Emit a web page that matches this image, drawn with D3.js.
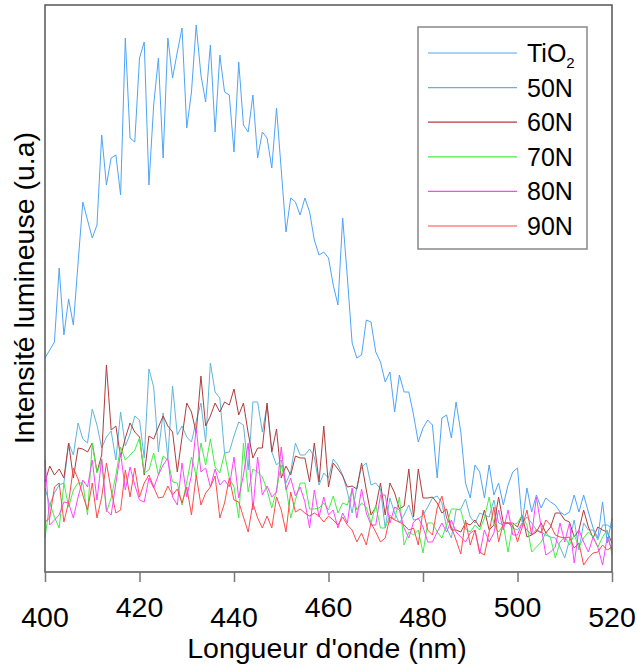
<!DOCTYPE html>
<html>
<head>
<meta charset="utf-8">
<script src="https://cdn.jsdelivr.net/npm/d3@7"></script>
<style>
  body { margin: 0; background: #fff; }
  svg { display: block; font-family: "Liberation Sans", Arial, sans-serif; }
</style>
</head>
<body>
<div id="chart"></div>
<script>

// DATA (intensity, arbitrary units, one value per nm from 400 to 520)
var wlStart = 400, wlEnd = 520;

var tio2 = [
  214,222,230,304,237,273,247,309,370,352,
  334,347,437,387,414,417,377,534,434,430,
  514,530,387,467,514,414,534,494,520,544,
  444,480,547,497,470,527,440,517,480,477,
  420,510,447,440,477,414,440,434,404,464,
  402,340,374,370,357,374,360,332,317,320,
  314,287,267,354,294,229,214,217,252,250,
  220,210,190,200,160,197,180,180,157,130,
  144,152,147,94,154,157,134,170,140,89,
  74,107,100,74,107,77,89,67,87,100,
  104,50,84,60,77,64,74,70,67,60,
  57,60,77,60,77,60,44,34,70,29,
  54
];

var n50 = [
  84,67,79,87,89,129,117,149,133,129,163,147,124,135,141,112,160,126,138,156,
  152,114,203,185,120,159,114,186,137,146,135,130,151,169,130,209,180,174,119,120,
  136,150,147,102,170,170,140,167,120,107,112,89,100,129,117,117,123,115,87,99,
  94,113,107,97,80,59,85,105,109,87,89,83,44,74,59,49,57,67,52,53,
  57,65,74,76,69,44,34,62,63,73,55,49,59,57,55,72,49,47,49,44,
  42,49,55,49,42,40,37,35,34,25,14,32,52,22,49,42,42,32,47,47,44
];

var n60 = [
  90,106,97,103,94,129,94,124,123,120,129,100,117,207,142,146,115,134,149,140,
  135,97,136,133,145,156,146,140,100,135,169,160,139,196,146,156,169,160,170,167,
  183,157,169,139,114,124,124,169,120,143,94,106,97,116,114,114,90,129,90,146,
  85,109,103,96,85,86,83,109,82,57,65,89,57,89,79,63,66,103,55,103,
  74,74,75,69,59,63,42,42,40,49,47,52,45,62,42,47,75,49,49,49,
  45,57,35,37,40,49,39,45,59,59,52,50,35,42,62,45,34,45,42,40,29
];

var n70 = [
  34,69,55,44,89,65,82,89,89,57,129,99,112,60,74,97,125,112,117,122,
  134,99,102,119,97,116,112,90,89,67,90,115,96,129,107,133,105,99,119,94,
  85,54,129,80,103,100,95,82,64,82,107,86,54,72,89,89,63,63,64,69,
  62,76,59,69,67,82,62,69,65,49,67,44,44,57,52,75,27,40,37,42,
  19,49,49,40,34,47,63,63,62,43,40,47,42,54,75,47,40,47,20,47,
  49,57,47,20,25,30,39,34,14,30,35,27,37,25,34,40,35,25,35,42,17
];

var n80 = [
  112,47,52,57,70,69,54,75,92,85,112,72,113,62,57,89,119,82,105,87,
  72,70,94,84,97,107,114,75,67,109,75,97,144,100,104,85,103,87,92,85,
  115,74,97,129,62,115,77,86,75,80,125,82,94,76,85,70,44,82,55,75,
  57,62,44,59,49,84,54,83,59,47,47,77,77,49,65,62,44,34,50,54,
  45,30,30,40,49,40,52,40,35,30,39,42,18,42,30,39,62,42,62,37,
  37,49,42,37,75,45,17,20,25,49,30,49,9,42,30,20,35,25,7,35,22
];

var n90 = [
  50,54,85,89,50,70,104,93,77,62,89,54,75,109,82,59,62,102,75,104,
  75,89,97,85,74,75,86,77,83,69,85,57,97,67,79,85,96,54,69,94,
  72,70,55,40,69,54,44,56,44,75,62,40,80,60,63,59,56,59,56,50,
  56,52,47,55,47,42,30,39,27,49,40,30,34,55,52,50,47,42,44,27,
  62,42,37,64,76,54,45,32,18,52,27,42,20,17,40,65,30,49,49,47,
  30,45,62,37,42,39,52,47,37,35,34,35,24,29,7,14,19,20,27,22,25
];

var seriesNames  = ['TiO2', '50N', '60N', '70N', '80N', '90N'];
var seriesValues = [tio2, n50, n60, n70, n80, n90];
var seriesColors = ['#4ea4f8', '#5fb6d9', '#b03c3c', '#44ee44', '#ff44ff', '#ff4a4a'];
var xTicks = [400, 420, 440, 460, 480, 500, 520];

// LAYOUT
var width = 637, height = 668;
var margin = { top: 5, right: 25, bottom: 96, left: 45 };
var plotW = width - margin.left - margin.right;
var plotH = height - margin.top - margin.bottom;

var svg = d3.select('#chart').append('svg')
  .attr('width', width)
  .attr('height', height);

var x = d3.scaleLinear().domain([wlStart, wlEnd]).range([0, plotW]);
var y = d3.scaleLinear().domain([0, 567]).range([plotH, 0]);

var g = svg.append('g')
  .attr('transform', 'translate(' + margin.left + ',' + margin.top + ')');

var line = d3.line()
  .x(function(d, i) { return x(wlStart + i); })
  .y(function(d) { return y(d); });

// draw the low series first, TiO2 last
var order = [1, 2, 3, 4, 5, 0];
order.forEach(function(k) {
  g.append('path')
    .datum(seriesValues[k])
    .attr('fill', 'none')
    .attr('stroke', seriesColors[k])
    .attr('stroke-width', 1)
    .attr('stroke-linejoin', 'round')
    .attr('d', line);
});

// frame
g.append('rect')
  .attr('x', 0).attr('y', 0)
  .attr('width', plotW).attr('height', plotH)
  .attr('fill', 'none')
  .attr('stroke', '#555')
  .attr('stroke-width', 1.5);

// x axis: ticks below, staggered labels
var xAxis = g.append('g')
  .attr('transform', 'translate(0,' + plotH + ')')
  .call(d3.axisBottom(x).tickValues(xTicks).tickSize(10).tickFormat(''));
xAxis.select('.domain').remove();
xAxis.selectAll('line').attr('stroke', '#777').attr('stroke-width', 1.5);

g.selectAll('.xlab')
  .data(xTicks)
  .enter().append('text')
  .attr('class', 'xlab')
  .attr('x', function(d) { return x(d); })
  .attr('y', function(d, i) { return plotH + (i % 2 === 0 ? 55 : 45); })
  .attr('text-anchor', 'middle')
  .style('font-size', '28.5px')
  .text(function(d) { return d; });

svg.append('text')
  .attr('x', 327)
  .attr('y', 658)
  .attr('text-anchor', 'middle')
  .style('font-size', '28.5px')
  .text("Longueur d'onde (nm)");

svg.append('text')
  .attr('transform', 'translate(34,288) rotate(-90)')
  .attr('text-anchor', 'middle')
  .style('font-size', '28.5px')
  .text('Intensité lumineuse (u.a)');

// legend
var legend = svg.append('g').attr('transform', 'translate(418,27)');
legend.append('rect')
  .attr('width', 169).attr('height', 222)
  .attr('fill', '#fff')
  .attr('stroke', '#888')
  .attr('stroke-width', 1.5);

seriesNames.forEach(function(name, i) {
  var ly = 26 + i * 34.6;
  legend.append('line')
    .attr('x1', 10).attr('x2', 99)
    .attr('y1', ly).attr('y2', ly)
    .attr('stroke', seriesColors[i])
    .attr('stroke-width', 1.2);
  var t = legend.append('text')
    .attr('x', 109)
    .attr('y', ly + 9)
    .style('font-size', '25px');
  if (name === 'TiO2') {
    t.append('tspan').text('TiO');
    t.append('tspan').attr('dy', 6).style('font-size', '15px').text('2');
  } else {
    t.text(name);
  }
});

</script>
</body>
</html>
